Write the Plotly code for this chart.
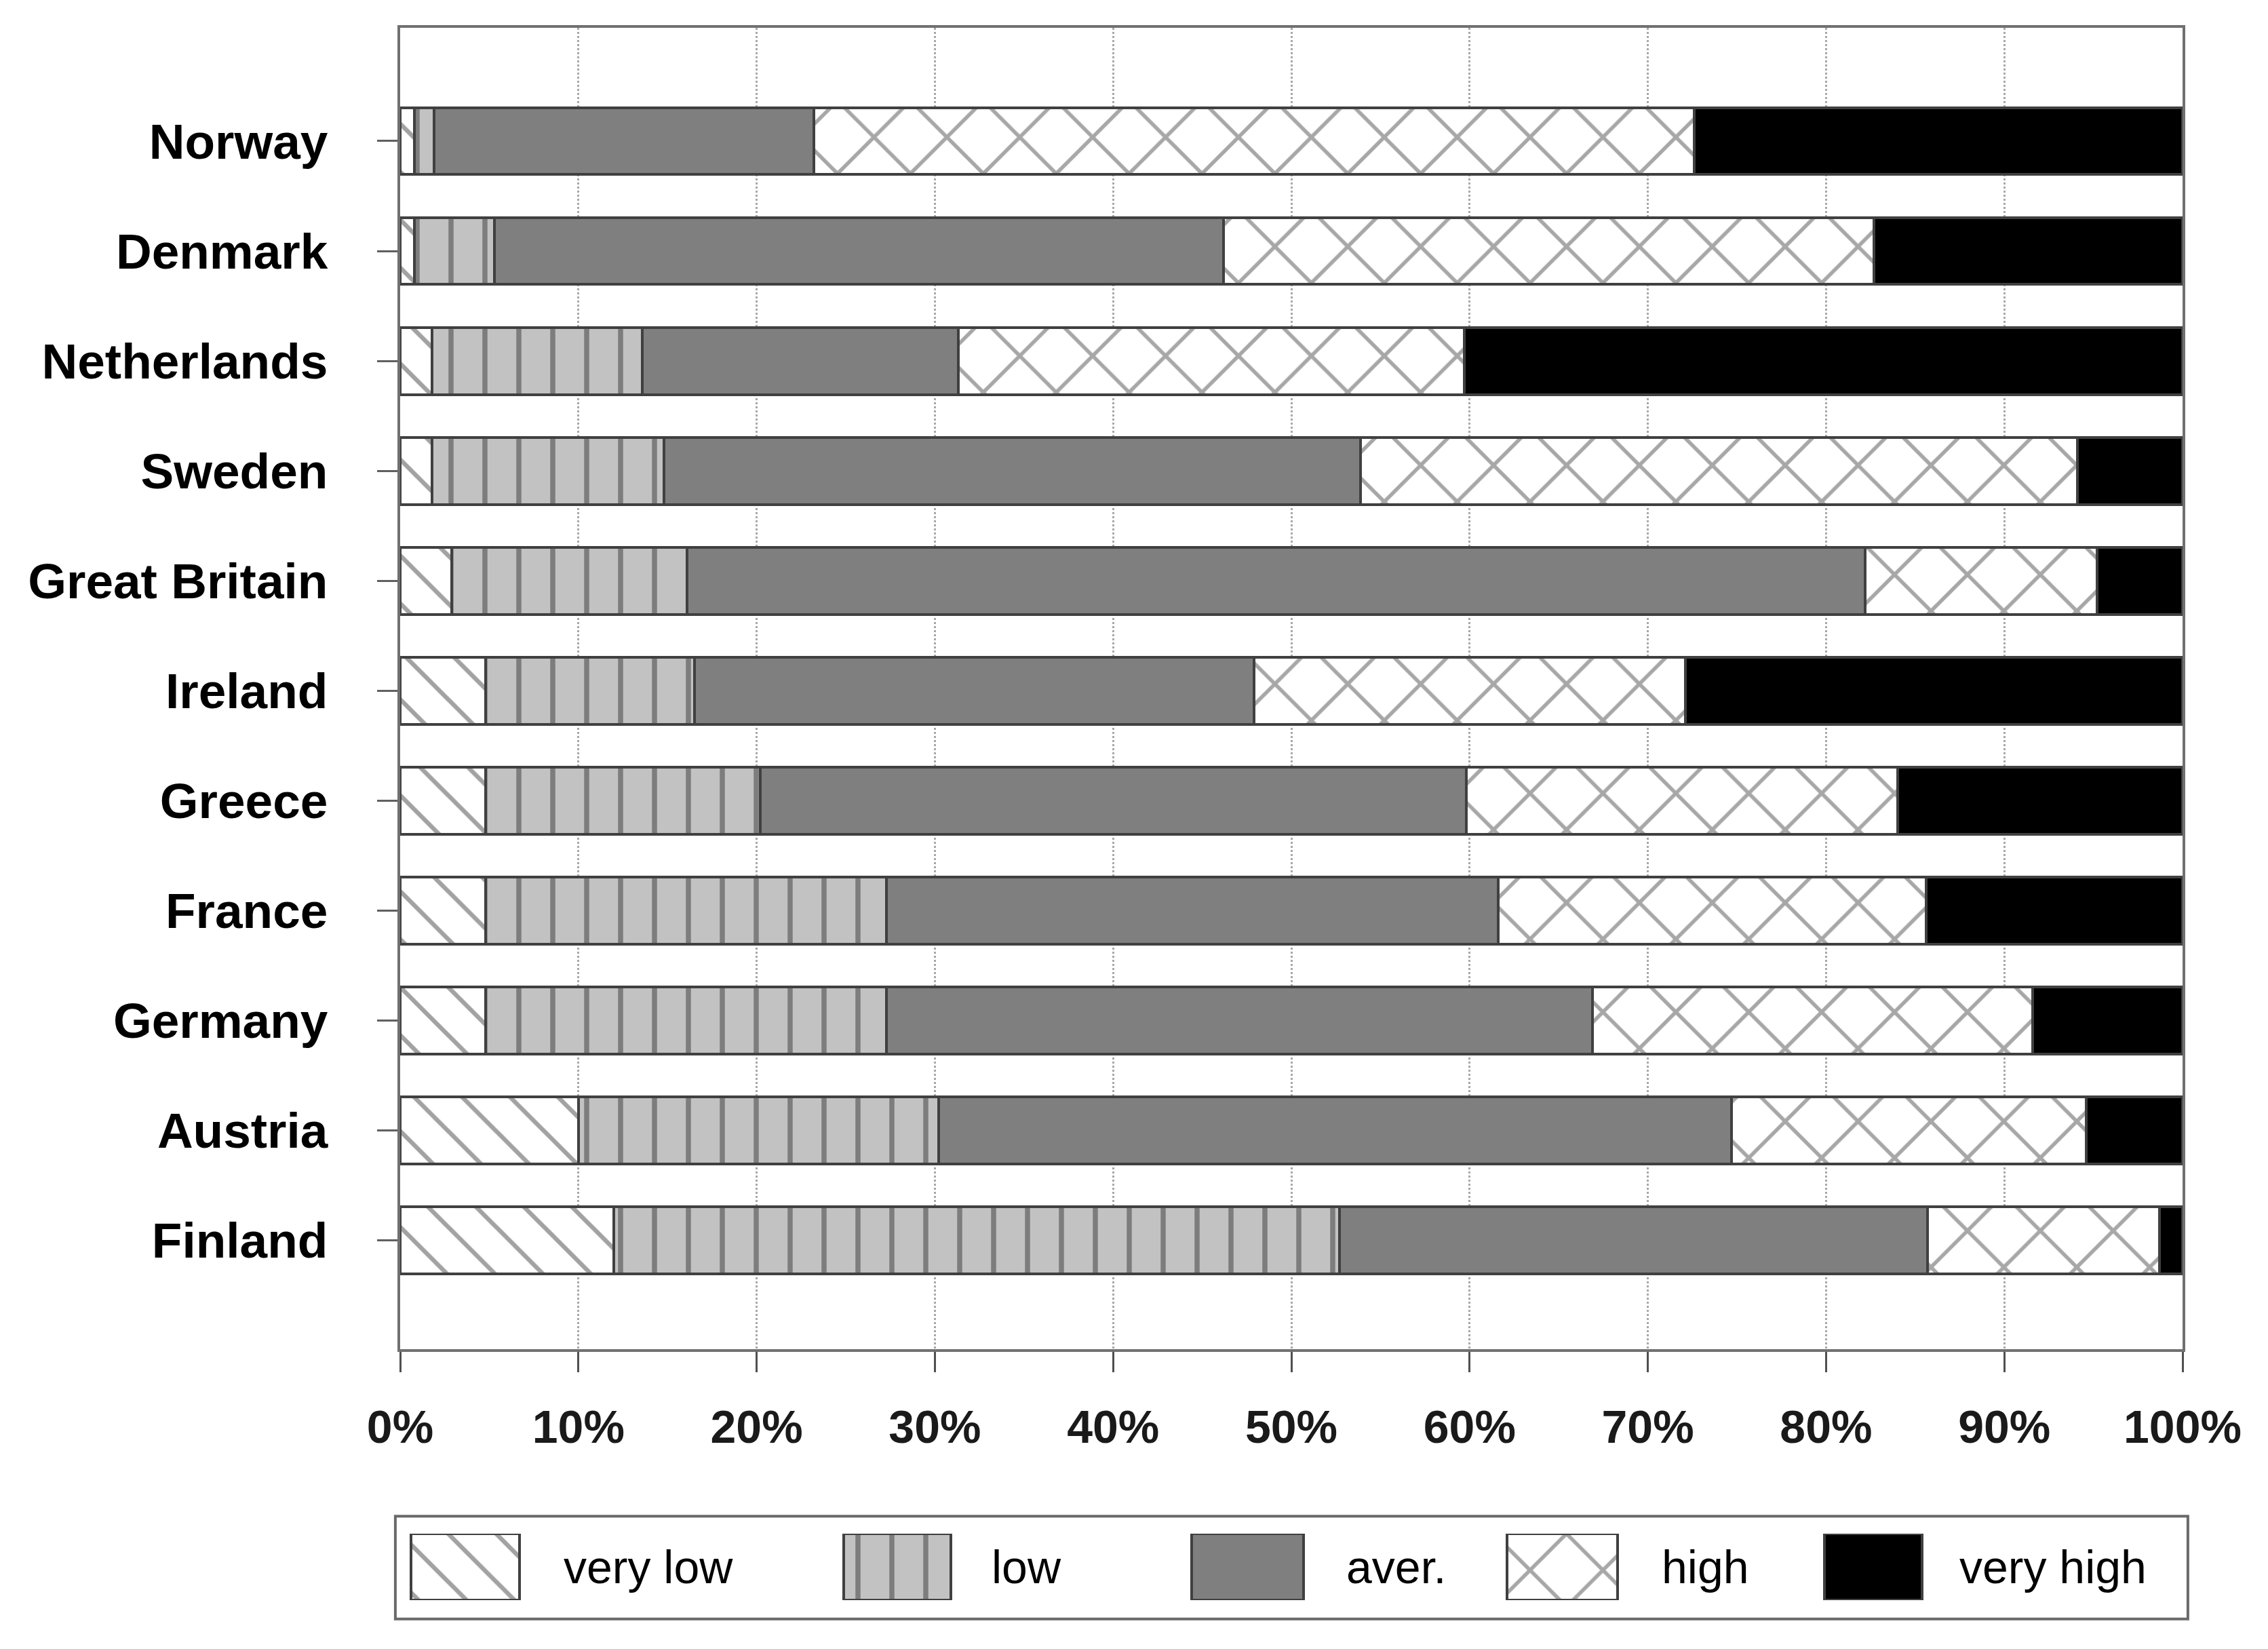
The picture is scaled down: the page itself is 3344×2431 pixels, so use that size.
import plotly.graph_objects as go

# shares per country (percent of respondents)
countries = ["Norway", "Denmark", "Netherlands", "Sweden", "Great Britain", "Ireland",
             "Greece", "France", "Germany", "Austria", "Finland"]
levels = ["very low", "low", "aver.", "high", "very high"]

very_low = [0.8, 0.8, 1.8, 1.8, 2.9, 4.8, 4.8, 4.8, 4.8, 10.0, 12.0]
low = [1.1, 4.5, 11.8, 13.0, 13.2, 11.7, 15.4, 22.5, 22.5, 20.2, 40.7]
aver = [21.3, 40.9, 17.7, 39.1, 66.1, 31.4, 39.6, 34.3, 39.6, 44.5, 33.0]
high = [49.4, 36.5, 28.4, 40.2, 13.0, 24.2, 24.2, 24.0, 24.7, 19.9, 13.0]
very_high = [27.4, 17.3, 40.3, 5.9, 4.8, 27.9, 16.0, 14.4, 8.4, 5.4, 1.3]

x_ticks = [0, 10, 20, 30, 40, 50, 60, 70, 80, 90, 100]
x_labels = [f"{v}%" for v in x_ticks]

series = [very_low, low, aver, high, very_high]

# fill style for each level
styles = [
    dict(color="white", pattern=dict(shape="\\", bgcolor="white", fgcolor="#454545", size=50, solidity=0.13)),
    dict(color="#c2c2c2", pattern=dict(shape="|", bgcolor="#c2c2c2", fgcolor="#383838", size=50, solidity=0.15)),
    dict(color="#7f7f7f"),
    dict(color="white", pattern=dict(shape="x", bgcolor="white", fgcolor="#505050", size=76, solidity=0.14)),
    dict(color="black"),
]

FONT = "Liberation Sans, Arial, sans-serif"
EDGE = dict(color="#404040", width=4)

fig = go.Figure()

for name, vals, st in zip(levels, series, styles):
    fig.add_trace(go.Bar(
        y=countries, x=vals, name=name, orientation="h",
        width=0.61, marker=dict(line=EDGE, **st), showlegend=False,
    ))

# hand-made legend: big swatches on a small helper axis under the chart
sw_start = [0.6, 24.9, 44.4, 62.1, 79.9]
sw_width = [6.1, 6.0, 6.3, 6.2, 5.5]
txt_x = [9.1, 33.1, 53.0, 70.7, 87.4]
for name, st, x0, w, tx in zip(levels, styles, sw_start, sw_width, txt_x):
    fig.add_trace(go.Bar(
        y=[0], x=[w], base=[x0], orientation="h", width=1,
        marker=dict(line=EDGE, **st), xaxis="x2", yaxis="y2", showlegend=False,
    ))
    fig.add_annotation(x=tx, y=0, xref="x2", yref="y2", text=name, showarrow=False,
                       xanchor="left", yanchor="middle",
                       font=dict(family=FONT, size=68, color="black"))

fig.add_shape(type="rect", xref="paper", yref="paper",
              x0=-0.0027, x1=1.003, y0=0.001, y1=0.0655,
              line=dict(color="#6a6a6a", width=4), fillcolor="rgba(0,0,0,0)")

fig.update_layout(
    width=3344, height=2431,
    barmode="stack",
    plot_bgcolor="white", paper_bgcolor="white",
    margin=dict(l=582, r=134, t=33, b=50),
    font=dict(family=FONT, color="black"),
    xaxis=dict(
        range=[0, 100], tickvals=x_ticks, ticktext=x_labels,
        showgrid=True, gridcolor="#a8a8a8", griddash="dot", gridwidth=3,
        showline=True, linecolor="#707070", linewidth=4, mirror=True,
        ticks="outside", ticklen=30, tickwidth=3, tickcolor="#505050",
        tickfont=dict(family=FONT, size=68, color="#1a1a1a", weight="bold"),
        ticklabelstandoff=22, zeroline=False, anchor="y",
    ),
    yaxis=dict(
        type="category", categoryorder="array", categoryarray=countries,
        range=[10.99, -1.03], domain=[0.1702, 1],
        showgrid=False, showline=True, linecolor="#707070", linewidth=4, mirror=True,
        ticks="outside", ticklen=30, tickwidth=3, tickcolor="#606060",
        tickfont=dict(family=FONT, size=73, color="black", weight="bold"),
        ticklabelstandoff=58,
    ),
    xaxis2=dict(domain=[0, 1], range=[0, 100], anchor="y2", visible=False, fixedrange=True),
    yaxis2=dict(domain=[0.0128, 0.0545], range=[-0.5, 0.5], anchor="x2", visible=False, fixedrange=True),
)

fig.write_html("out.html")
